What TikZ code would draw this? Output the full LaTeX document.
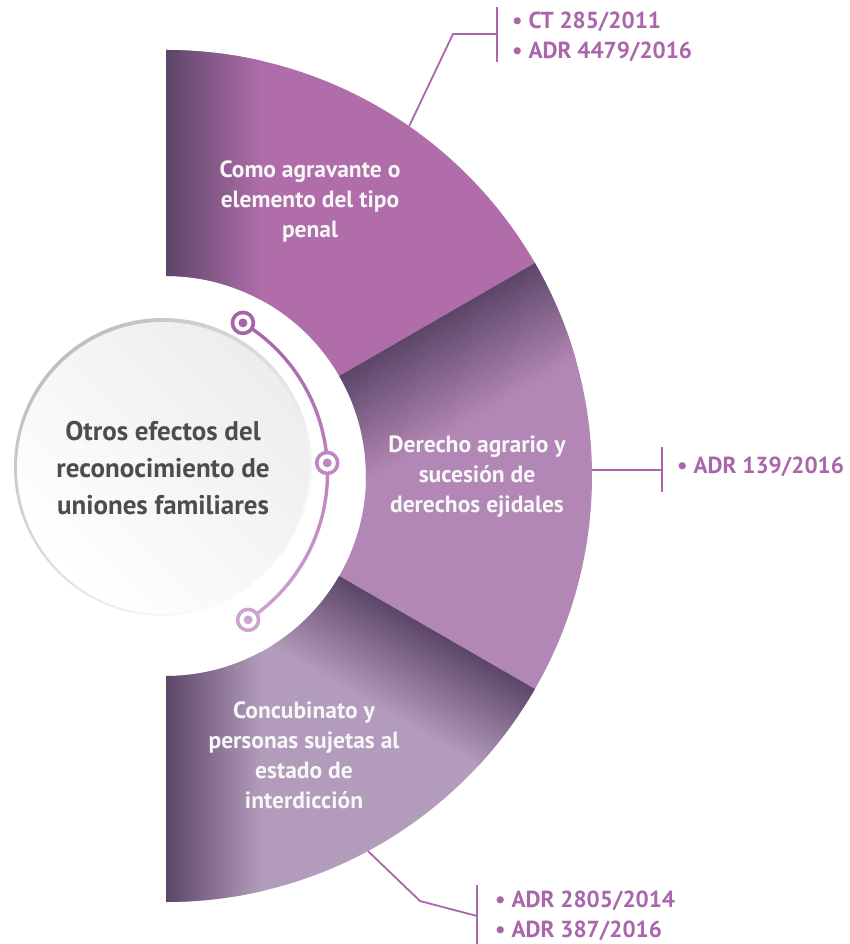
\documentclass[tikz,border=0pt]{standalone}
\usepackage{fontspec}
\setmainfont{PT Sans}
\usetikzlibrary{positioning}

\definecolor{topcol}{HTML}{B06DAA}
\definecolor{midcol}{HTML}{B387B5}
\definecolor{botcol}{HTML}{B39BBB}
\definecolor{shadecol}{HTML}{5C4668}
\definecolor{labelcol}{HTML}{AA66AA}
\definecolor{mkA}{HTML}{A964A8}
\definecolor{mkB}{HTML}{BE88C0}
\definecolor{mkC}{HTML}{CDA3D0}
\definecolor{txtgray}{HTML}{4D4D4D}

\newcommand{\Rout}{426}
\newcommand{\Rin}{200}

\begin{document}
\begin{tikzpicture}[
    x=1pt, y=1pt,
    sector/.style={font=\bfseries\fontsize{23.5}{30}\selectfont, text=white!94!gray, align=center},
    refs/.style={font=\bfseries\fontsize{23.2}{30}\selectfont, text=labelcol, align=left, anchor=west, inner sep=0pt},
    bracket/.style={draw=labelcol, line width=1.8pt},
    ringmark/.style={circle, draw=#1, line width=3.6pt, fill=white, minimum size=21pt, inner sep=0pt},
    core/.style={circle, minimum size=292pt, inner sep=0pt, left color=gray!14, right color=white,
        shading angle=-45, font=\bfseries\fontsize{27}{37}\selectfont, text=txtgray, align=center}
]
    \useasboundingbox (-166,-468) rectangle (683,476);

    % --- Sectors ---
    \begin{scope}
        \clip (90:\Rin) -- (90:\Rout) arc[start angle=90, end angle=30, radius=\Rout]
            -- (30:\Rin) arc[start angle=30, end angle=90, radius=\Rin] -- cycle;
        \fill[topcol] (0,0) rectangle (440,440);
        \shade[left color=shadecol, right color=topcol] (0,0) rectangle (95,440);
    \end{scope}
    \begin{scope}
        \clip (-30:\Rin) -- (-30:\Rout) arc[start angle=-30, end angle=30, radius=\Rout]
            -- (30:\Rin) arc[start angle=30, end angle=-30, radius=\Rin] -- cycle;
        \fill[midcol] (0,-440) rectangle (440,440);
        \begin{scope}[transform canvas={rotate=30}]
            \shade[top color=shadecol, bottom color=midcol] (0,-105) rectangle (440,0);
        \end{scope}
    \end{scope}
    \begin{scope}
        \clip (-90:\Rin) -- (-90:\Rout) arc[start angle=-90, end angle=-30, radius=\Rout]
            -- (-30:\Rin) arc[start angle=-30, end angle=-90, radius=\Rin] -- cycle;
        \fill[botcol] (0,-440) rectangle (440,0);
        \shade[left color=shadecol, right color=botcol] (0,-440) rectangle (95,0);
        \begin{scope}[transform canvas={rotate=-30}]
            \shade[top color=shadecol, bottom color=botcol] (0,-95) rectangle (440,0);
        \end{scope}
    \end{scope}

    % --- Centre circle ---
    \shade[left color=gray!50, right color=white, shading angle=45] (-3,9) circle (149);
    \node[core] (centre) at (-3,8) {Otros efectos del\\reconocimiento de\\uniones familiares};

    % --- Arc with markers ---
    \begin{scope}[shift={(-14,3)}]
        \shade[top color=mkA, middle color=mkB, bottom color=mkC]
            (58.8:173.8) arc[start angle=58.8, end angle=-56.8, radius=173.8]
            -- (-56.8:177.2) arc[start angle=-56.8, end angle=58.8, radius=177.2] -- cycle;
        \node[ringmark=mkA] (mA) at (58.8:175.5) {};
        \node[ringmark=mkB] (mB) at (3.3:175.5) {};
        \node[ringmark=mkC] (mC) at (-56.8:175.5) {};
    \end{scope}
    \fill[mkA] (mA) circle (4.5);
    \fill[mkB] (mB) circle (4.5);
    \fill[mkC] (mC) circle (4.5);

    % --- Sector texts ---
    \node[sector] (agrav) at (144,275) {Como agravante o\\elemento del tipo\\penal};
    \node[sector] (agrario) at (311,-1) {Derecho agrario y\\sucesión de\\derechos ejidales};
    \node[sector] (concub) at (138,-279) {Concubinato y\\personas sujetas al\\estado de\\interdicción};

    % --- References ---
    \node[refs] (refTop) at (346,439) {• CT 285/2011\\• ADR 4479/2016};
    \node[refs] (refMid) at (511,9) {• ADR 139/2016};
    \node[refs] (refBot) at (329,-440) {• ADR 2805/2014\\• ADR 387/2016};

    \coordinate (topA) at (55.2:\Rout);
    \coordinate (topB) at (287,442);
    \coordinate (topC) at (331,442);
    \coordinate (topU) at (331,469);
    \coordinate (topD) at (331,414);
    \draw[bracket] (topA) -- (topB) -- (topC);
    \draw[bracket] (topU) -- (topD);

    \coordinate (midA) at (425.9,6);
    \coordinate (midC) at (496,6);
    \coordinate (midU) at (496,29);
    \coordinate (midD) at (496,-16);
    \draw[bracket] (midA) -- (midC);
    \draw[bracket] (midU) -- (midD);

    \coordinate (botA) at (-61.7:\Rout);
    \coordinate (botB) at (254,-425);
    \coordinate (botC) at (311,-440);
    \coordinate (botU) at (311,-409);
    \coordinate (botD) at (311,-468);
    \draw[bracket] (botA) -- (botB) -- (botC);
    \draw[bracket] (botU) -- (botD);
\end{tikzpicture}
\end{document}
